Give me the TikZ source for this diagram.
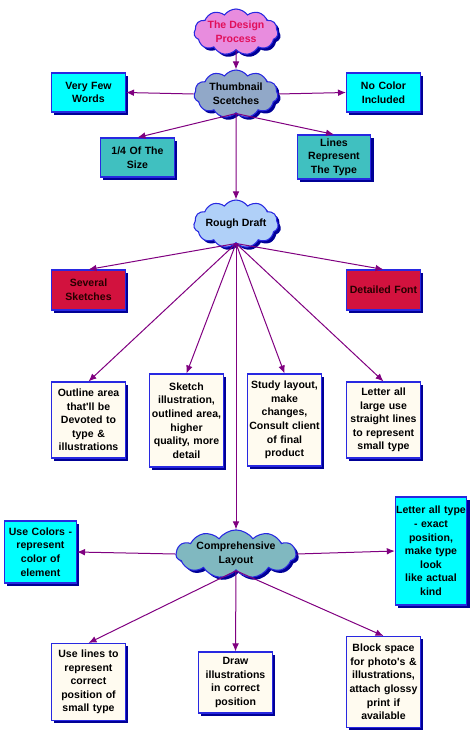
\documentclass[tikz,border=0pt]{standalone}
\usepackage{fontspec}
\setmainfont{Liberation Sans}
\usetikzlibrary{shapes.symbols,shadows,arrows.meta}
\definecolor{boxblue}{RGB}{40,40,225}
\definecolor{shadowblue}{RGB}{0,0,150}
\definecolor{arrowpurple}{RGB}{128,0,128}
\definecolor{cyanbox}{RGB}{0,255,255}
\definecolor{tealbox}{RGB}{64,192,192}
\definecolor{crimsonbox}{RGB}{210,18,62}
\definecolor{creambox}{RGB}{255,251,240}
\definecolor{pinkcloud}{RGB}{232,140,222}
\definecolor{designtext}{RGB}{225,15,90}
\definecolor{thumbcloud}{RGB}{145,168,200}
\definecolor{roughcloud}{RGB}{176,208,248}
\definecolor{compcloud}{RGB}{128,184,192}
\begin{document}
\begin{tikzpicture}[x=0.75pt,y=0.75pt,yscale=-1,xscale=1,
  box/.style={draw=boxblue, line width=0.8pt, align=center, inner sep=0pt,
    font=\bfseries\fontsize{7.9}{10.2}\selectfont,
    drop shadow={shadow xshift=2.2pt, shadow yshift=-2.2pt, fill=shadowblue, opacity=1}},
  puff/.style={cloud, cloud puffs=11, cloud puff arc=110, cloud ignores aspect,
    draw=boxblue, line width=0.8pt, align=center, inner sep=0pt,
    font=\bfseries\fontsize{7.9}{10.2}\selectfont,
    drop shadow={shadow xshift=2pt, shadow yshift=-2pt, fill=shadowblue, opacity=1}},
  arr/.style={draw=arrowpurple, line width=0.75pt, -{Latex[length=6pt,width=5pt]}}]
\useasboundingbox (0,0) rectangle (474,732);
\draw (236,32) node (design) [puff, fill=pinkcloud, text=designtext, minimum width=63pt, minimum height=34.5pt] {The Design\\Process};
\draw (236,94) node (thumb) [puff, fill=thumbcloud, minimum width=63pt, minimum height=36pt] {Thumbnail\\Scetches};
\draw (236,224) node (rough) [puff, fill=roughcloud, minimum width=63pt, minimum height=36pt] {Rough Draft};
\draw (236,554) node (comp) [puff, fill=compcloud, minimum width=90pt, minimum height=36pt] {Comprehensive\\Layout};
\draw (88.5,92.5) node (fewwords) [box, fill=cyanbox, text width=55.5pt, minimum height=29.25pt] {Very Few\\Words};
\draw (383.5,92.5) node (nocolor) [box, fill=cyanbox, text width=55.5pt, minimum height=29.25pt] {No Color\\Included};
\draw (137.5,157.5) node (quarter) [box, fill=tealbox, text width=55.5pt, minimum height=29.25pt] {1/4 Of The\\Size};
\draw (334,157) node (linetype) [box, fill=tealbox, text width=55pt, minimum height=33pt] {Lines\\Represent\\The Type};
\draw (88.5,290) node (several) [box, fill=crimsonbox, text=black!85!red, text width=55.5pt, minimum height=30pt] {Several\\Sketches};
\draw (383.5,290) node (detailfont) [box, fill=crimsonbox, text=black!85!red, text width=55.5pt, minimum height=30pt] {Detailed Font};
\draw (88.5,420) node (outline) [box, fill=creambox, text width=55.5pt, minimum height=57pt] {Outline area\\that\textquotesingle ll be\\Devoted to\\type \&\\illustrations};
\draw (186.5,420.5) node (sketch) [box, fill=creambox, text width=55.5pt, minimum height=69.75pt] {Sketch\\illustration,\\outlined area,\\higher\\quality, more\\detail};
\draw (284.5,420) node (study) [box, fill=creambox, text width=55.5pt, minimum height=69pt] {Study layout,\\make\\changes,\\Consult client\\of final\\product};
\draw (383.5,420) node (letterlarge) [box, fill=creambox, text width=55.5pt, minimum height=57pt] {Letter all\\large use\\straight lines\\to represent\\small type};
\draw (40.5,552) node (usecolors) [box, fill=cyanbox, text width=54pt, minimum height=46.5pt] {Use Colors -\\represent\\color of\\element};
\draw (431,551) node (lettertype) [box, fill=cyanbox, text width=53.5pt, minimum height=81pt] {Letter all type\\- exact\\position,\\make type\\look\\like actual\\kind};
\draw (88.5,682) node (uselines) [box, fill=creambox, text width=55.5pt, minimum height=57.75pt] {Use lines to\\represent\\correct\\position of\\small type};
\draw (235.5,682.5) node (drawill) [box, fill=creambox, text width=55.5pt, minimum height=45.75pt] {Draw\\illustrations\\in correct\\position};
\draw (383.5,682) node (blockspace) [box, fill=creambox, text width=55.5pt, minimum height=68.25pt] {Block space\\for photo\textquotesingle s \&\\illustrations,\\attach glossy\\print if\\available};
\draw [arr] (design.south) -- (thumb.north);
\draw [arr] (thumb.west) -- (fewwords.east);
\draw [arr] (thumb.east) -- (nocolor.west);
\draw [arr] (thumb.south) -- (quarter.north);
\draw [arr] (thumb.south) -- (linetype.north);
\draw [arr] (thumb.south) -- (rough.north);
\draw [arr] (rough.south) -- (several.north);
\draw [arr] (rough.south) -- (detailfont.north);
\draw [arr] (rough.south) -- (outline.north);
\draw [arr] (rough.south) -- (sketch.north);
\draw [arr] (rough.south) -- (study.north);
\draw [arr] (rough.south) -- (letterlarge.north);
\draw [arr] (rough.south) -- (comp.north);
\draw [arr] (comp.west) -- (usecolors.east);
\draw [arr] (comp.east) -- (lettertype.west);
\draw [arr] (comp.south) -- (uselines.north);
\draw [arr] (comp.south) -- (drawill.north);
\draw [arr] (comp.south) -- (blockspace.north);
\end{tikzpicture}
\end{document}
